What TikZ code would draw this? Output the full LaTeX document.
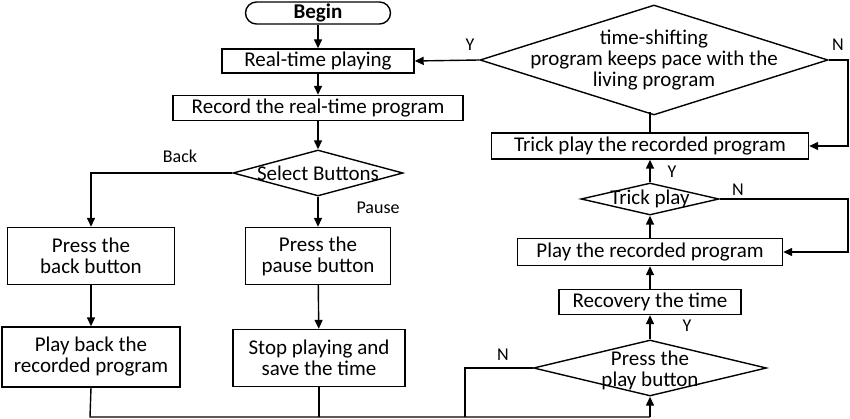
\documentclass[tikz,border=0pt]{standalone}
\usepackage{fontspec}
\setmainfont{Carlito}
\usetikzlibrary{shapes.geometric,arrows.meta}
\begin{document}
\begin{tikzpicture}[x=1pt,y=-1pt,
  every node/.style={font=\fontsize{21}{21}\selectfont},
  box/.style={draw,line width=1.4pt,inner sep=0pt,align=center},
  arr/.style={line width=1.4pt,-{Triangle[length=9pt,width=8pt]}},
  ln/.style={line width=1.4pt},
  dd/.style={draw,line width=1.4pt,diamond,inner sep=0pt},
  lbl/.style={font=\fontsize{18}{18}\selectfont}]
\path[use as bounding box] (0,0) rectangle (850,419);
\node[box,rounded corners=11pt,minimum width=145pt,minimum height=22pt,font=\fontsize{21}{21}\selectfont\bfseries] (begin) at (318,13) {Begin};
\node[box,minimum width=192pt,minimum height=24pt] (rt) at (318,61) {Real-time playing};
\node[box,minimum width=290pt,minimum height=25pt] (rec) at (318,108) {Record the real-time program};
\node[dd,minimum width=170pt,minimum height=46pt] (sel) at (318,173) {};
\node at (sel) {Select Buttons};
\node[box,minimum width=167pt,minimum height=57pt] (back) at (91,256) {Press the\\back button};
\node[box,minimum width=145pt,minimum height=57pt] (pause) at (318,256) {Press the\\pause button};
\node[box,minimum width=178pt,minimum height=60pt] (pb) at (91,357) {Play back the\\recorded program};
\node[box,minimum width=172pt,minimum height=57pt] (stop) at (319,358) {Stop playing and\\save the time};
\node[dd,minimum width=233pt,minimum height=56pt] (press) at (650,368) {};
\node[align=center] at (650,370) {Press the\\play button};
\node[box,minimum width=182pt,minimum height=25pt] (recov) at (650,302) {Recovery the time};
\node[box,minimum width=265pt,minimum height=27pt] (play) at (650,252) {Play the recorded program};
\node[dd,minimum width=138pt,minimum height=32pt] (tp) at (650,199) {};
\node at (tp) {Trick play};
\node[box,minimum width=317pt,minimum height=26pt] (tpr) at (650,146) {Trick play the recorded program};
\node[dd,minimum width=348pt,minimum height=110pt] (ts) at (654,60) {};
\node[align=center] at (654,60) {time-shifting\\program keeps pace with the\\living program};
\coordinate (bl) at (90,417);
\coordinate (br) at (650,417);
\coordinate (bn) at (465,417);
\draw[arr] (begin) -- (rt);
\draw[arr] (rt) -- (rec);
\draw[arr] (rec) -- (sel);
\draw[arr] (sel.west) -| (back.north);
\draw[arr] (sel.south) -- (pause.north);
\draw[arr] (back) -- (pb);
\draw[arr] (pause) -- (stop);
\draw[ln] (pb.south) -- (bl) -- (br);
\draw[ln] (stop.south) -- (stop.south |- bl);
\draw[arr] (br) -- (press.south);
\draw[ln] (press.west) -| (bn);
\draw[arr] (press.north) -- (recov);
\draw[arr] (recov) -- (play);
\draw[arr] (play) -- (tp.south);
\draw[arr] (tp.north) -- (tpr);
\draw[arr] (tp.east) -- (848,199) |- (play.east);
\draw[ln] (tpr.north) -- (tpr.north |- 0,112);
\draw[arr] (ts.west) -- (rt.east);
\draw[arr] (ts.east) -- (848,60) |- (tpr.east);
\node[lbl] at (180,156) {Back};
\node[lbl] at (378,208) {Pause};
\node[lbl] at (503,355) {N};
\node[lbl] at (687,326) {Y};
\node[lbl] at (672,172) {Y};
\node[lbl] at (738,190) {N};
\node[lbl] at (470,45) {Y};
\node[lbl] at (838,45) {N};
\end{tikzpicture}
\end{document}
